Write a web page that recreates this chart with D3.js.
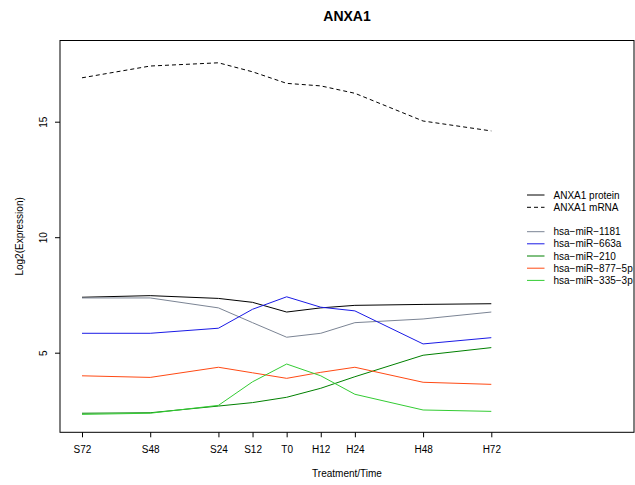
<!DOCTYPE html>
<html>
<head>
<meta charset="utf-8">
<script src="https://cdn.jsdelivr.net/npm/d3@7"></script>
<style>
  body { margin: 0; background: #fff; }
  svg text { font-family: "Liberation Sans", Arial, sans-serif; fill: #000; }
</style>
</head>
<body>
<div id="container"></div>
<script>
'use strict';
// time points (hours, negative = starvation side)
var timeLabels = ['S72', 'S48', 'S24', 'S12', 'T0', 'H12', 'H24', 'H48', 'H72'];
var timeHours = [-72, -48, -24, -12, 0, 12, 24, 48, 72];
var yTicks = [5, 10, 15];

var proteinVals = [7.40, 7.47, 7.35, 7.18, 6.76, 6.94, 7.05, 7.09, 7.12];
var mrnaVals = [16.90, 17.41, 17.55, 17.16, 16.66, 16.55, 16.23, 15.03, 14.60];
var mir1181 = [7.37, 7.37, 6.94, 6.30, 5.67, 5.84, 6.30, 6.46, 6.76];
var mir663a = [5.84, 5.84, 6.06, 6.88, 7.42, 6.97, 6.81, 5.38, 5.65];
var mir210 = [2.38, 2.40, 2.69, 2.84, 3.07, 3.46, 3.96, 4.89, 5.22];
var mir877 = [4.00, 3.93, 4.37, 4.13, 3.89, 4.15, 4.37, 3.72, 3.63];
var mir335 = [2.33, 2.38, 2.72, 3.74, 4.51, 4.00, 3.20, 2.52, 2.46];

var seriesNames = ['ANXA1 protein', 'ANXA1 mRNA', 'hsa\u2212miR\u22121181', 'hsa\u2212miR\u2212663a',
    'hsa\u2212miR\u2212210', 'hsa\u2212miR\u2212877\u22125p', 'hsa\u2212miR\u2212335\u22123p'];

(function() {
    var width = 635, height = 485;
    var box = {left: 60, right: 634, top: 40.5, bottom: 432.3};

    var svg = d3.select('#container').append('svg')
        .attr('width', width)
        .attr('height', height);

    var x = d3.scaleLinear().domain([-72, 72]).range([82, 491.3]);
    var y = d3.scaleLinear().domain([5, 15]).range([352.7, 121.7]);

    var series = [
        {name: seriesNames[0], vals: proteinVals, color: '#000', dash: null},
        {name: seriesNames[1], vals: mrnaVals, color: '#000', dash: '4,3'},
        {name: seriesNames[2], vals: mir1181, color: '#7b8494', dash: null},
        {name: seriesNames[3], vals: mir663a, color: '#1a1ae6', dash: null},
        {name: seriesNames[4], vals: mir210, color: '#008000', dash: null},
        {name: seriesNames[5], vals: mir877, color: '#ff4a14', dash: null},
        {name: seriesNames[6], vals: mir335, color: '#33cc33', dash: null}
    ];

    // title
    svg.append('text')
        .attr('x', (box.left + box.right) / 2)
        .attr('y', 21)
        .attr('text-anchor', 'middle')
        .style('font-size', '14px')
        .style('font-weight', 'bold')
        .text('ANXA1');

    // lines
    var line = d3.line()
        .x(function(d, i) { return x(timeHours[i]); })
        .y(function(d) { return y(d); });

    svg.selectAll('.series')
        .data(series)
        .enter().append('path')
        .attr('class', 'series')
        .attr('d', function(d) { return line(d.vals); })
        .attr('fill', 'none')
        .attr('stroke', function(d) { return d.color; })
        .attr('stroke-width', 1)
        .attr('stroke-dasharray', function(d) { return d.dash; });

    // plot box
    svg.append('rect')
        .attr('x', box.left)
        .attr('y', box.top)
        .attr('width', box.right - box.left)
        .attr('height', box.bottom - box.top)
        .attr('fill', 'none')
        .attr('stroke', '#000')
        .attr('stroke-width', 1);

    // x axis
    var xAxis = d3.axisBottom(x)
        .tickValues(timeHours)
        .tickFormat(function(d, i) { return timeLabels[i]; })
        .tickSize(5)
        .tickPadding(9);
    var gx = svg.append('g')
        .attr('transform', 'translate(0,' + box.bottom + ')')
        .call(xAxis);
    gx.select('.domain').remove();
    gx.selectAll('text').style('font-size', '10px').style('font-family', '"Liberation Sans", Arial, sans-serif');

    // y axis
    var yAxis = d3.axisLeft(y)
        .tickValues(yTicks)
        .tickSize(5)
        .tickPadding(0);
    var gy = svg.append('g')
        .attr('transform', 'translate(' + box.left + ',0)')
        .call(yAxis);
    gy.select('.domain').remove();
    gy.selectAll('text')
        .style('font-size', '10px')
        .style('font-family', '"Liberation Sans", Arial, sans-serif')
        .attr('text-anchor', 'middle')
        .attr('dy', null)
        .attr('x', 0)
        .attr('transform', 'translate(-13,0) rotate(-90)');

    // axis titles
    svg.append('text')
        .attr('x', (box.left + box.right) / 2)
        .attr('y', 477)
        .attr('text-anchor', 'middle')
        .style('font-size', '10px')
        .text('Treatment/Time');

    svg.append('text')
        .attr('transform', 'translate(23,' + ((box.top + box.bottom) / 2) + ') rotate(-90)')
        .attr('text-anchor', 'middle')
        .style('font-size', '10px')
        .text('Log2(Expression)');

    // legend
    var legendY = [195, 207.3, 231.7, 243.8, 256, 268.2, 280.4];
    var lg = svg.selectAll('.legend')
        .data(series)
        .enter().append('g')
        .attr('class', 'legend')
        .attr('transform', function(d, i) { return 'translate(527,' + legendY[i] + ')'; });
    lg.append('line')
        .attr('x1', 0).attr('x2', 17.5)
        .attr('stroke', function(d) { return d.color; })
        .attr('stroke-width', 1)
        .attr('stroke-dasharray', function(d) { return d.dash; });
    lg.append('text')
        .attr('x', 26.5)
        .attr('dy', '0.35em')
        .style('font-size', '10px')
        .text(function(d) { return d.name; });
})();
</script>
</body>
</html>
